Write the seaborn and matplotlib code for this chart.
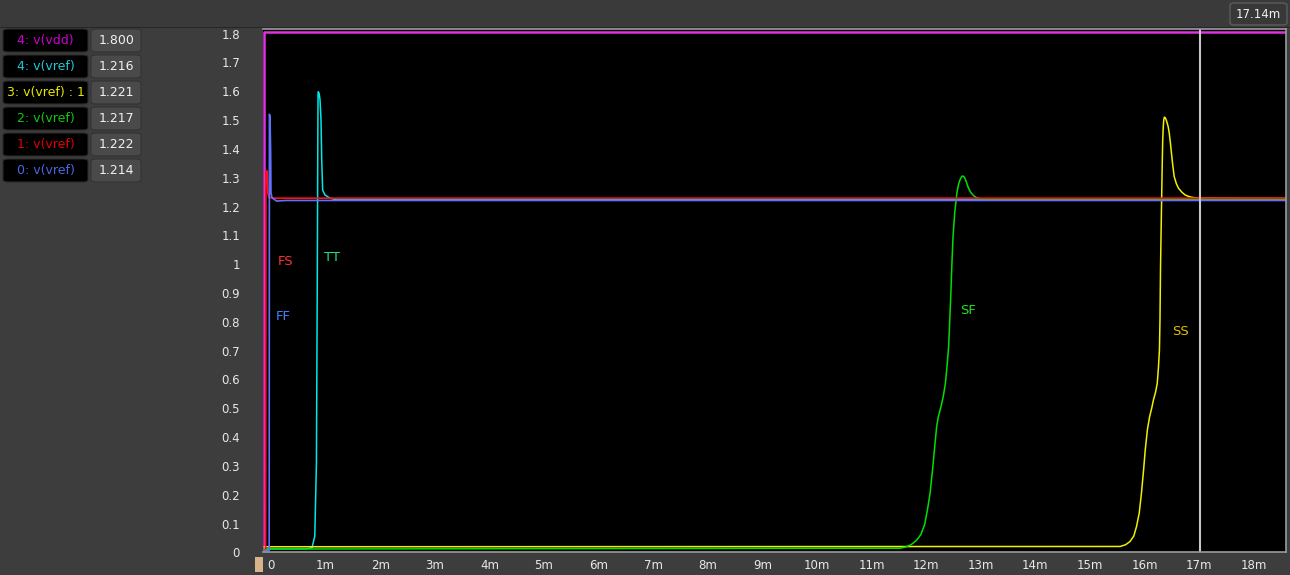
import numpy as np
import pandas as pd
import matplotlib
matplotlib.use("Agg")
import matplotlib.pyplot as plt
import matplotlib.transforms as mtransforms
from matplotlib.patches import FancyBboxPatch, Rectangle
import seaborn as sns

# time in ms, values in V
t_vdd = [0.0, 0.0, 18.8]
v_vdd = [0.0, 1.8, 1.8]

t_fs = [0.0, 0.03, 0.035, 0.06, 0.07, 0.09, 0.2, 18.8]
v_fs = [0.0, 0.0, 1.316, 1.316, 1.24, 1.225, 1.222, 1.222]

t_ff = [0.0, 0.095, 0.099, 0.11, 0.122, 0.128, 0.147, 0.232, 0.4, 18.8]
v_ff = [0.0, 0.0, 1.513, 1.505, 1.379, 1.24, 1.223, 1.212, 1.214, 1.214]

t_tt = [0.0, 0.80, 0.88, 0.93, 0.96, 0.975, 0.985, 0.99, 0.994, 1.01, 1.026, 1.044, 1.057,
        1.074, 1.117, 1.209, 1.33, 18.8]
v_tt = [0.005, 0.006, 0.01, 0.05, 0.3, 0.9, 1.4, 1.58, 1.591, 1.585, 1.563, 1.493, 1.355,
        1.25, 1.233, 1.222, 1.216, 1.216]

t_sf = [0.0, 11.65, 11.75, 11.85, 11.95, 12.03, 12.1, 12.15, 12.2, 12.25, 12.29, 12.32,
        12.35, 12.40, 12.44, 12.48, 12.51, 12.54, 12.56, 12.58, 12.6, 12.62, 12.65, 12.69,
        12.72, 12.75, 12.78, 12.8, 12.83, 12.86, 12.9, 12.95, 13.0, 13.05, 13.12, 13.2, 18.8]
v_sf = [0.005, 0.008, 0.012, 0.02, 0.035, 0.055, 0.09, 0.14, 0.2, 0.29, 0.372, 0.43,
        0.464, 0.50, 0.533, 0.58, 0.64, 0.71, 0.8, 0.892, 1.0, 1.09, 1.17, 1.239,
        1.27, 1.287, 1.297, 1.299, 1.294, 1.28, 1.258, 1.24, 1.23, 1.224, 1.22, 1.218, 1.217]

t_ss = [0.0, 15.68, 15.78, 15.86, 15.93, 15.98, 16.03, 16.07, 16.11, 16.14, 16.18, 16.22,
        16.26, 16.29, 16.33, 16.36, 16.38, 16.4, 16.41, 16.42, 16.43, 16.44, 16.45, 16.46,
        16.47, 16.48, 16.49, 16.51, 16.53, 16.56, 16.58, 16.6, 16.62, 16.645, 16.67, 16.71,
        16.75, 16.81, 16.87, 16.95, 17.02, 17.1, 18.8]
v_ss = [0.013, 0.014, 0.02, 0.031, 0.05, 0.083, 0.13, 0.198, 0.28, 0.349, 0.42, 0.464,
        0.495, 0.522, 0.55, 0.58, 0.63, 0.695, 0.8, 0.984, 1.1, 1.216, 1.33, 1.424,
        1.47, 1.495, 1.503, 1.50, 1.49, 1.47, 1.447, 1.415, 1.378, 1.335, 1.297, 1.272,
        1.256, 1.243, 1.233, 1.227, 1.224, 1.222, 1.221]

legend_names = ["4: v(vdd)", "4: v(vref)", "3: v(vref) : 1", "2: v(vref)", "1: v(vref)", "0: v(vref)"]
legend_values = ["1.800", "1.216", "1.221", "1.217", "1.222", "1.214"]
legend_colors = ["#d000d0", "#20c8d8", "#e8e800", "#10c810", "#e00000", "#4a68e0"]

corner_labels = ["FS", "FF", "TT", "SF", "SS"]
corner_t = [0.40, 0.35, 1.25, 12.89, 16.78]
corner_v = [1.004, 0.813, 1.015, 0.831, 0.761]
corner_colors = ["#ff3030", "#4080ff", "#20e080", "#20e020", "#e0c000"]

cursor_t = 17.14

W, H = 1290, 575
bg = "#3d3d3d"

sns.set_style("dark")
plt.rcParams["font.family"] = ["DejaVu Sans"]

fig = plt.figure(figsize=(W / 100, H / 100), dpi=100, facecolor=bg)


def fx(px):
    return px / W


def fy(py):
    return 1 - py / H


# top bar
fig.add_artist(Rectangle((0, fy(27)), 1, 27 / H, transform=fig.transFigure,
                         facecolor="#3a3a3a", edgecolor="none"))
fig.add_artist(Rectangle((0, fy(28)), 1, 1.2 / H, transform=fig.transFigure,
                         facecolor="#262626", edgecolor="none"))
fig.add_artist(FancyBboxPatch((fx(1230), fy(25)), 57 / W, 22 / H,
                              boxstyle="round,pad=0,rounding_size=0.004",
                              transform=fig.transFigure, facecolor="#383838",
                              edgecolor="#5c5c5c", lw=1))
fig.text(fx(1258), fy(14), f"{cursor_t:.2f}m", color="#f0f0f0", fontsize=8.5,
         ha="center", va="center")

# signal list on the left
for i, (name, val, col) in enumerate(zip(legend_names, legend_values, legend_colors)):
    top = 29 + 26 * i
    fig.add_artist(FancyBboxPatch((fx(3), fy(top + 23)), 85 / W, 23 / H,
                                  boxstyle="round,pad=0,rounding_size=0.004",
                                  transform=fig.transFigure, facecolor="#000000",
                                  edgecolor="#2a2a2a", lw=0.8))
    fig.add_artist(FancyBboxPatch((fx(91), fy(top + 23)), 50 / W, 23 / H,
                                  boxstyle="round,pad=0,rounding_size=0.004",
                                  transform=fig.transFigure, facecolor="#4a4a4a",
                                  edgecolor="#333333", lw=0.8))
    fig.text(fx(45.5), fy(top + 11.5), name, color=col, fontsize=9,
             ha="center", va="center")
    fig.text(fx(116.5), fy(top + 11.5), val, color="#f0f0f0", fontsize=9,
             ha="center", va="center")

# small marker at the x axis origin
fig.add_artist(Rectangle((fx(255), fy(572)), 8 / W, 15 / H, transform=fig.transFigure,
                         facecolor="#d8b48c", edgecolor="none"))

ax = fig.add_axes([fx(263), fy(552), (1286 - 263) / W, (552 - 29) / H])
ax.set_facecolor("black")

series = [
    (t_vdd, v_vdd, "#e030e0", 1.8),
    (t_tt, v_tt, "#00e8e8", 1.1),
    (t_ss, v_ss, "#f0f000", 1.1),
    (t_sf, v_sf, "#00e000", 1.1),
    (t_fs, v_fs, "#ff1010", 1.2),
    (t_ff, v_ff, "#6070ff", 1.2),
]
for t, v, col, lw in series:
    df = pd.DataFrame({"t": t, "v": v})
    sns.lineplot(data=df, x="t", y="v", color=col, lw=lw, ax=ax,
                 estimator=None, sort=False)

ax.axvline(cursor_t, color="#c8c8c8", lw=1.5)

for lab, t, v, col in zip(corner_labels, corner_t, corner_v, corner_colors):
    ax.text(t, v, lab, color=col, fontsize=9.5, ha="center", va="center")

px_per_ms = 54.6
px_per_v = 288.3
x0 = -1 / px_per_ms
ax.set_xlim(x0, x0 + 1023 / px_per_ms)
ax.set_ylim(-1.5 / px_per_v, 1.8 + 2.5 / px_per_v)

xt = np.arange(0, 19)
ax.set_xticks(xt)
ax.set_xticklabels(["0"] + [f"{k}m" for k in xt[1:]])
yt = np.round(np.arange(0, 1.81, 0.1), 1)
ax.set_yticks(yt)
ax.set_yticklabels(["0", "0.1", "0.2", "0.3", "0.4", "0.5", "0.6", "0.7", "0.8", "0.9",
                    "1", "1.1", "1.2", "1.3", "1.4", "1.5", "1.6", "1.7", "1.8"])
ax.tick_params(axis="x", length=0, pad=5, labelsize=8.5, labelcolor="#e8e8e8")
ax.tick_params(axis="y", length=0, pad=16.5, labelsize=8.5, labelcolor="#e8e8e8")
for lbl in ax.get_xticklabels():
    lbl.set_transform(lbl.get_transform() + mtransforms.ScaledTranslation(7 / 100, 0, fig.dpi_scale_trans))
for lbl in ax.get_yticklabels():
    lbl.set_transform(lbl.get_transform() + mtransforms.ScaledTranslation(0, -2 / 100, fig.dpi_scale_trans))
ax.set_xlabel("")
ax.set_ylabel("")
ax.grid(False)
for side in ["top", "right", "bottom"]:
    ax.spines[side].set_visible(True)
    ax.spines[side].set_color("#9a9a9a")
    ax.spines[side].set_linewidth(1.2)
ax.spines["left"].set_visible(False)

fig.savefig("out.png", dpi=100, facecolor=bg)
